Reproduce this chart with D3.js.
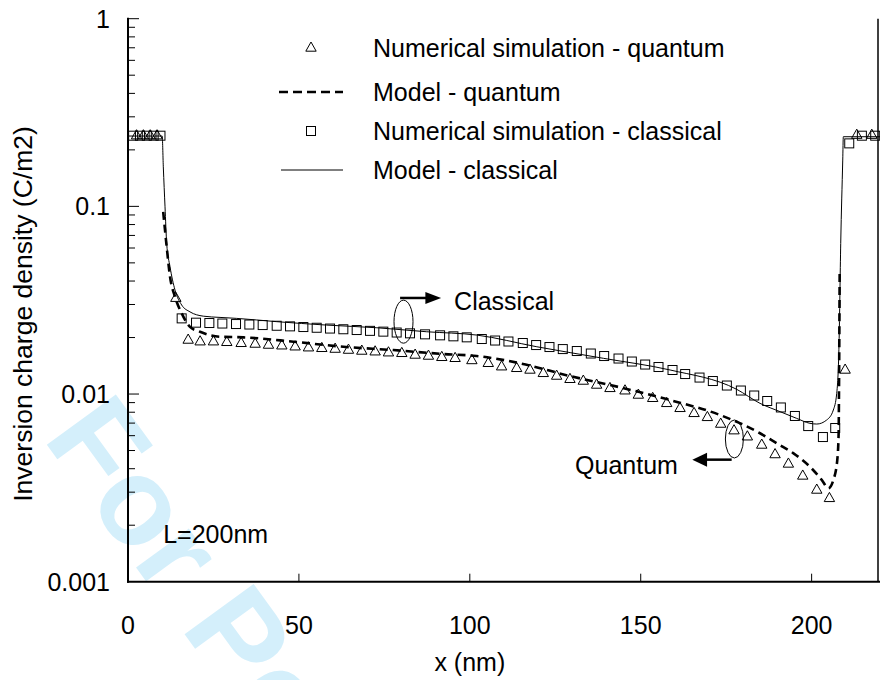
<!DOCTYPE html>
<html>
<head>
<meta charset="utf-8">
<script src="https://cdn.jsdelivr.net/npm/d3@7"></script>
<style>
  html, body { margin: 0; padding: 0; background: #fff; }
  svg { display: block; font-family: "Liberation Sans", Arial, sans-serif; }
</style>
</head>
<body>
<svg id="chart" width="880" height="680"></svg>
<script>
// Inversion charge density along the channel, L = 200 nm

// Numerical simulation - classical (squares)
const simClassicalX = [1.5, 3.5, 5.5, 7.5, 9.5,
  15.7, 19.9, 23.8, 27.6, 31.6, 35.5, 39.4, 43.5, 47.4, 51.3, 55.2, 59.1, 63.0, 66.9, 70.8,
  74.7, 78.6, 82.5, 86.9, 91.3, 95.2, 99.1, 103.5, 107.4, 111.3, 115.5, 119.4, 123.3, 127.2,
  131.3, 135.4, 139.3, 143.5, 147.4, 151.3, 155.2, 159.3, 163.0, 167.2, 171.1, 175.2, 179.3,
  183.2, 187.0, 191.0, 195.1, 199.0, 203.3, 206.9,
  211.0, 214.7, 218.6];
const simClassicalY = [0.238, 0.238, 0.238, 0.238, 0.238,
  0.0253, 0.0240, 0.0239, 0.02375, 0.0236, 0.02346, 0.02331, 0.02311, 0.02294, 0.02275, 0.02255,
  0.02233, 0.02214, 0.02193, 0.02171, 0.0215, 0.02127, 0.02106, 0.0208, 0.02055, 0.0203, 0.02005,
  0.01964, 0.01928, 0.01905, 0.0187, 0.01824, 0.0178, 0.01736, 0.01695, 0.01644, 0.01594,
  0.01546, 0.0149, 0.01436, 0.01393, 0.01343, 0.01278, 0.01224, 0.01173, 0.0111, 0.01044,
  0.00982, 0.00918, 0.00848, 0.00764, 0.00675, 0.0059, 0.00659,
  0.2166, 0.238, 0.238];

// Numerical simulation - quantum (triangles)
const simQuantumX = [2.5, 4.5, 6.5, 8.5,
  14.0, 17.6, 21.1, 25.0, 28.9, 33.1, 37.2, 41.1, 45.0, 48.9, 52.8, 56.7, 60.6, 64.5, 68.4,
  72.3, 76.2, 80.1, 84.0, 87.9, 91.8, 95.7, 100.6, 105.4, 109.3, 113.7, 117.6, 121.5, 125.4,
  129.3, 133.2, 137.1, 141.0, 145.4, 149.3, 153.5, 157.6, 161.5, 165.6, 169.5, 173.4, 177.3,
  181.2, 185.4, 189.3, 193.2, 197.4, 201.5, 205.2, 209.8,
  213.2, 217.6];
const simQuantumY = [0.238, 0.238, 0.238, 0.238,
  0.0324, 0.0194, 0.0190, 0.0190, 0.01886, 0.01863, 0.01847, 0.01824, 0.01808, 0.01786, 0.01765,
  0.01752, 0.01736, 0.01715, 0.01695, 0.0168, 0.0166, 0.01648, 0.01614, 0.01594, 0.01569, 0.0155,
  0.01509, 0.01458, 0.01398, 0.01371, 0.01343, 0.01289, 0.01247, 0.01198, 0.01173, 0.01117,
  0.01072, 0.01041, 0.00988, 0.00949, 0.00892, 0.00839, 0.00789, 0.00751, 0.00692, 0.00638,
  0.00592, 0.00535, 0.00476, 0.00424, 0.00366, 0.00308, 0.00278, 0.01343,
  0.2396, 0.2396];

// Model - classical (solid line)
const modelClassicalX = [0, 10.0, 10.33, 10.83, 11.32, 12.29, 13.75, 15.71, 18.14, 22.03, 26.92,
  31.8, 43.5, 58.1, 72.8, 87.4, 102.0, 119.6, 139.1, 158.6, 178.1, 184.9, 190.8, 195.6, 199.5,
  201.5, 204.4, 206.35, 207.34, 208.02, 208.51, 209.1, 209.27, 220];
const modelClassicalY = [0.237, 0.237, 0.1625, 0.0995, 0.0635, 0.0477, 0.0358, 0.0298, 0.0274,
  0.0260, 0.0256, 0.0253, 0.0243, 0.0233, 0.02255, 0.02147, 0.02062, 0.01786, 0.0155, 0.01343,
  0.01059, 0.00892, 0.00805, 0.00742, 0.00698, 0.00692, 0.00727, 0.00822, 0.01009, 0.01863,
  0.0635, 0.1765, 0.235, 0.235];

// Model - quantum (dashed line)
const modelQuantumX = [10.3, 11.32, 12.29, 13.75, 15.71, 18.14, 21.07, 26.92, 33.7, 48.4, 63.0,
  77.6, 92.3, 102.0, 114.7, 129.3, 143.9, 158.6, 173.2, 184.9, 189.8, 194.7, 199.5, 203.0, 204.9,
  206.35, 207.5, 207.9, 208.0, 208.1, 208.2];
const modelQuantumY = [0.0936, 0.0609, 0.0422, 0.0330, 0.0269, 0.0228, 0.02147, 0.0202, 0.02005,
  0.0190, 0.01786, 0.01715, 0.01634, 0.01594, 0.01458, 0.01247, 0.01086, 0.00929, 0.00773,
  0.00618, 0.00546, 0.00483, 0.0041, 0.00348, 0.00315, 0.00348, 0.00445, 0.0062, 0.010, 0.020,
  0.044];

// Axis ticks and labels
const xTickValues = [0, 50, 100, 150, 200];
const xTickLabels = ["0", "50", "100", "150", "200"];
const yTickValues = [0.001, 0.01, 0.1, 1];
const yTickLabels = ["0.001", "0.01", "0.1", "1"];

// Legend entries
const legendLabels = ["Numerical simulation - quantum", "Model - quantum",
  "Numerical simulation - classical", "Model - classical"];

const svg = d3.select("#chart");
const W = 880, H = 680;
const plotLeft = 128, plotRight = 879, plotTop = 18.7, plotBottom = 581.7;
const fs = 25;

const x = d3.scaleLinear().domain([0, 220]).range([plotLeft, plotRight + 1]);
const y = d3.scaleLog().domain([0.001, 1]).range([plotBottom, plotTop]);

// Watermark behind the plot
svg.append("text")
  .attr("transform", "translate(42,438) rotate(54)")
  .attr("font-size", 124)
  .attr("font-weight", "bold")
  .attr("fill", "#d4effb")
  .text("For Peer Review");

const ink = "#000";

// Model curves
const line = (xs, ys) => d3.line()
  .x(i => x(xs[i])).y(i => y(ys[i]))
  .curve(d3.curveMonotoneX)(d3.range(xs.length));

svg.append("path")
  .attr("d", line(modelClassicalX, modelClassicalY))
  .attr("fill", "none").attr("stroke", ink).attr("stroke-width", 1);

svg.append("path")
  .attr("d", line(modelQuantumX, modelQuantumY))
  .attr("fill", "none").attr("stroke", ink).attr("stroke-width", 2.6)
  .attr("stroke-dasharray", "8,5");

// Simulation markers
const sq = 9;
svg.append("g").selectAll("rect")
  .data(d3.range(simClassicalX.length))
  .join("rect")
  .attr("x", i => x(simClassicalX[i]) - sq / 2)
  .attr("y", i => y(simClassicalY[i]) - sq / 2)
  .attr("width", sq).attr("height", sq)
  .attr("fill", "none").attr("stroke", ink).attr("stroke-width", 1);

const triPath = "M0,-6L5.2,3.2L-5.2,3.2Z";
svg.append("g").selectAll("path")
  .data(d3.range(simQuantumX.length))
  .join("path")
  .attr("transform", i => `translate(${x(simQuantumX[i])},${y(simQuantumY[i])})`)
  .attr("d", triPath)
  .attr("fill", "none").attr("stroke", ink).attr("stroke-width", 1);

// Axes
const gx = svg.append("g").attr("transform", `translate(0,${plotBottom})`);
gx.append("line").attr("x1", plotLeft - 1).attr("x2", W).attr("y1", 0).attr("y2", 0)
  .attr("stroke", ink).attr("stroke-width", 2);
gx.selectAll("line.tick").data(xTickValues.slice(1)).join("line").attr("class", "tick")
  .attr("x1", d => x(d)).attr("x2", d => x(d)).attr("y1", 0).attr("y2", -8)
  .attr("stroke", ink).attr("stroke-width", 1);
gx.selectAll("text").data(xTickValues).join("text")
  .attr("x", d => x(d)).attr("y", 52)
  .attr("text-anchor", "middle").attr("font-size", fs)
  .text((d, i) => xTickLabels[i]);

const gy = svg.append("g");
gy.append("line").attr("x1", plotLeft).attr("x2", plotLeft).attr("y1", plotTop - 1).attr("y2", plotBottom + 1)
  .attr("stroke", ink).attr("stroke-width", 2);
// right frame edge
gy.append("line").attr("x1", plotRight - 1).attr("x2", plotRight - 1).attr("y1", plotTop).attr("y2", plotBottom)
  .attr("stroke", ink).attr("stroke-width", 1.5);

const minor = [];
for (let e = -3; e < 0; e++) for (let m = 2; m <= 9; m++) minor.push(m * Math.pow(10, e));
gy.selectAll("line.minor").data(minor).join("line").attr("class", "minor")
  .attr("x1", plotLeft).attr("x2", plotLeft + 7).attr("y1", d => y(d)).attr("y2", d => y(d))
  .attr("stroke", ink).attr("stroke-width", 1);
gy.selectAll("line.major").data(yTickValues.slice(1)).join("line").attr("class", "major")
  .attr("x1", plotLeft).attr("x2", plotLeft + 11).attr("y1", d => y(d)).attr("y2", d => y(d))
  .attr("stroke", ink).attr("stroke-width", 1);
gy.selectAll("text").data(yTickValues).join("text")
  .attr("x", 110).attr("y", d => y(d) + 9)
  .attr("text-anchor", "end").attr("font-size", fs)
  .text((d, i) => yTickLabels[i]);

// Axis titles
svg.append("text").attr("x", x(100)).attr("y", 671)
  .attr("text-anchor", "middle").attr("font-size", fs).text("x (nm)");
svg.append("text").attr("transform", "translate(32,314) rotate(-90)")
  .attr("text-anchor", "middle").attr("font-size", 26.5)
  .text("Inversion charge density (C/m2)");

// Legend
const lg = svg.append("g");
const rowY = [48, 92, 131, 170];
const symX = 311, sampleX0 = 279, sampleX1 = 343, textX = 373;
lg.append("path").attr("transform", `translate(${symX},${rowY[0]})`).attr("d", triPath)
  .attr("fill", "none").attr("stroke", ink);
lg.append("line").attr("x1", sampleX0).attr("x2", sampleX1).attr("y1", rowY[1]).attr("y2", rowY[1])
  .attr("stroke", ink).attr("stroke-width", 2.6).attr("stroke-dasharray", "9,5");
lg.append("rect").attr("x", symX - sq / 2).attr("y", rowY[2] - sq / 2).attr("width", sq).attr("height", sq)
  .attr("fill", "none").attr("stroke", ink);
lg.append("line").attr("x1", sampleX0 + 2).attr("x2", sampleX1).attr("y1", rowY[3]).attr("y2", rowY[3])
  .attr("stroke", ink).attr("stroke-width", 1);
lg.selectAll("text").data(legendLabels).join("text")
  .attr("x", textX).attr("y", (d, i) => rowY[i] + 9)
  .attr("font-size", fs).text(d => d);

// Annotations: groups of curves with arrows
const ann = svg.append("g");
ann.append("ellipse").attr("cx", x(80.6)).attr("cy", y(0.0243)).attr("rx", 9.5).attr("ry", 21.5)
  .attr("fill", "none").attr("stroke", ink).attr("stroke-width", 1);
ann.append("line").attr("x1", x(79.6)).attr("x2", x(87.4)).attr("y1", y(0.0325)).attr("y2", y(0.0325))
  .attr("stroke", ink).attr("stroke-width", 2.5);
ann.append("path")
  .attr("d", `M${x(87)},${y(0.0325) - 6}L${x(91.6)},${y(0.0325)}L${x(87)},${y(0.0325) + 6}Z`)
  .attr("fill", ink);
ann.append("text").attr("x", x(95.4)).attr("y", y(0.028)).attr("font-size", fs).text("Classical");

ann.append("ellipse").attr("cx", x(177.4)).attr("cy", y(0.00576)).attr("rx", 9).attr("ry", 19)
  .attr("fill", "none").attr("stroke", ink).attr("stroke-width", 1);
ann.append("line").attr("x1", x(176.6)).attr("x2", x(169.0)).attr("y1", y(0.00447)).attr("y2", y(0.00447))
  .attr("stroke", ink).attr("stroke-width", 2.5);
ann.append("path")
  .attr("d", `M${x(169.4)},${y(0.00447) - 7}L${x(165.1)},${y(0.00447)}L${x(169.4)},${y(0.00447) + 7}Z`)
  .attr("fill", ink);
ann.append("text").attr("x", x(130.8)).attr("y", y(0.00375)).attr("font-size", fs).text("Quantum");

ann.append("text").attr("x", x(10.3)).attr("y", y(0.0016)).attr("font-size", fs).text("L=200nm");
</script>
</body>
</html>
